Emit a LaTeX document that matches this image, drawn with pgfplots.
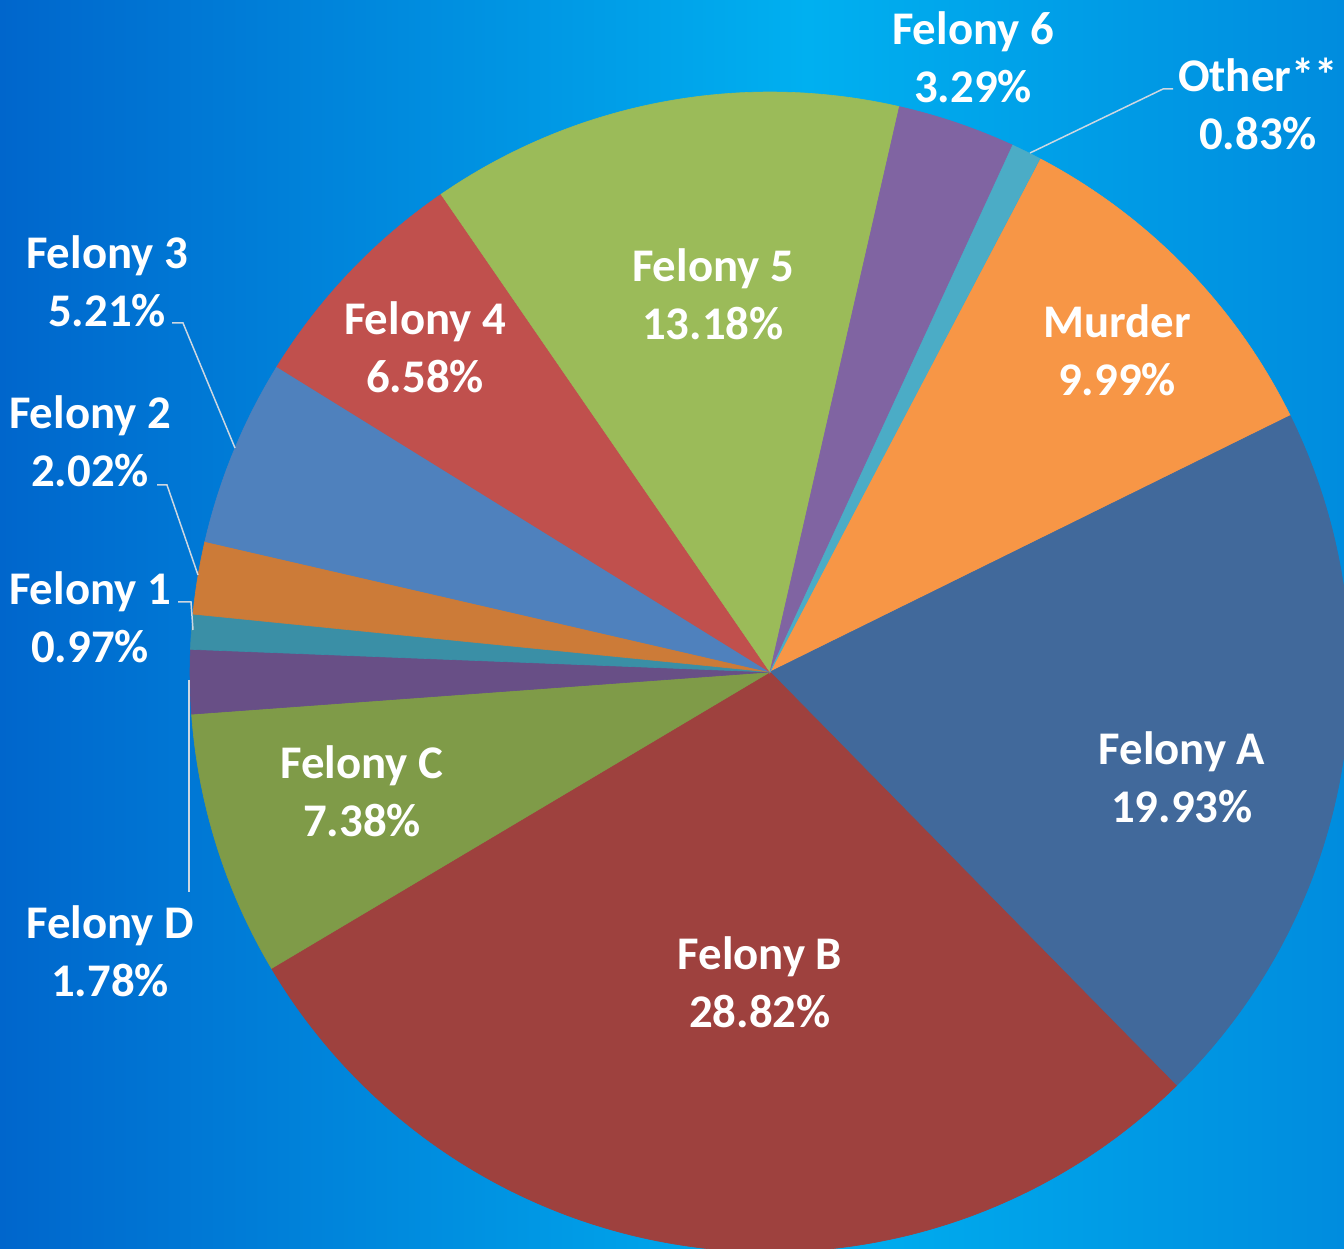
\documentclass[border=0pt]{standalone}
\usepackage{pgfplots}
\pgfplotsset{compat=1.18}
\usepackage{fontspec}
\setmainfont{Carlito}
\definecolor{cMurder}{HTML}{F79646}
\definecolor{cA}{HTML}{41699B}
\definecolor{cB}{HTML}{9E413E}
\definecolor{cC}{HTML}{7F9B48}
\definecolor{cD}{HTML}{684F86}
\definecolor{c1}{HTML}{3A8FA6}
\definecolor{c2}{HTML}{CC7B38}
\definecolor{c3}{HTML}{4F81BD}
\definecolor{c4}{HTML}{C0504D}
\definecolor{c5}{HTML}{9BBB59}
\definecolor{c6}{HTML}{8064A2}
\definecolor{cO}{HTML}{4BACC6}
\definecolor{bgL}{RGB}{0,102,204}
\definecolor{bgM}{RGB}{0,176,240}
\definecolor{bgR}{RGB}{0,140,222}
\definecolor{leader}{RGB}{205,215,225}
\pgfdeclarehorizontalshading{bgshade}{100bp}{color(0bp)=(bgL); color(25bp)=(bgL); color(55bp)=(bgM); color(75bp)=(bgR); color(100bp)=(bgR)}
\tikzset{lbl/.style={font=\fontsize{23.4bp}{29bp}\selectfont\bfseries, text=white, align=center, inner sep=0pt}}
\def\pieang{62.2}
\newcommand\slice[2]{%
  \pgfmathsetmacro\sa{\pieang}%
  \pgfmathsetmacro\sb{\pieang-3.6*#1}%
  \edef\tmp{\noexpand\addplot[fill=#2, draw=#2, line width=0.3pt, domain=\sb:\sa, samples=120] ({770+580*cos(x)},{577+580*sin(x)}) -- (axis cs:770,577) -- cycle;}%
  \tmp
  \xdef\pieang{\sb}%
}
\begin{document}
\begin{tikzpicture}
\shade[shading=bgshade] (0,0) rectangle (672bp,624.5bp);
\begin{axis}[
  at={(0,0)}, anchor=south west,
  scale only axis, width=672bp, height=624.5bp,
  xmin=0, xmax=1344, ymin=0, ymax=1249,
  hide axis, clip=true,
]
\slice{9.99}{cMurder}
\slice{19.93}{cA}
\slice{28.82}{cB}
\slice{7.38}{cC}
\slice{1.78}{cD}
\slice{0.97}{c1}
\slice{2.02}{c2}
\slice{5.21}{c3}
\slice{6.58}{c4}
\slice{13.18}{c5}
\slice{3.29}{c6}
\slice{0.83}{cO}
% leader lines
\addplot[leader, line width=0.75pt] coordinates {(172,926) (183,926) (235,801)};
\addplot[leader, line width=0.75pt] coordinates {(157,764) (167,764) (198,674)};
\addplot[leader, line width=0.75pt] coordinates {(178,647) (191,647) (193,619)};
\addplot[leader, line width=0.75pt] coordinates {(189,569) (189,357)};
\addplot[leader, line width=0.75pt] coordinates {(1030,1096) (1163,1160) (1173,1160)};
% labels
\node[lbl] at (axis cs:973,1192) {Felony 6\\3.29\%};
\node[lbl] at (axis cs:1258,1145) {Other**\\0.83\%};
\node[lbl] at (axis cs:107,968) {Felony 3\\5.21\%};
\node[lbl] at (axis cs:90,808) {Felony 2\\2.02\%};
\node[lbl] at (axis cs:90,632) {Felony 1\\0.97\%};
\node[lbl] at (axis cs:110,298) {Felony D\\1.78\%};
\node[lbl] at (axis cs:425,902) {Felony 4\\6.58\%};
\node[lbl] at (axis cs:713,955) {Felony 5\\13.18\%};
\node[lbl] at (axis cs:1117,899) {Murder\\9.99\%};
\node[lbl] at (axis cs:1182,472) {Felony A\\19.93\%};
\node[lbl] at (axis cs:362,458) {Felony C\\7.38\%};
\node[lbl] at (axis cs:760,267) {Felony B\\28.82\%};
\end{axis}
\end{tikzpicture}
\end{document}
